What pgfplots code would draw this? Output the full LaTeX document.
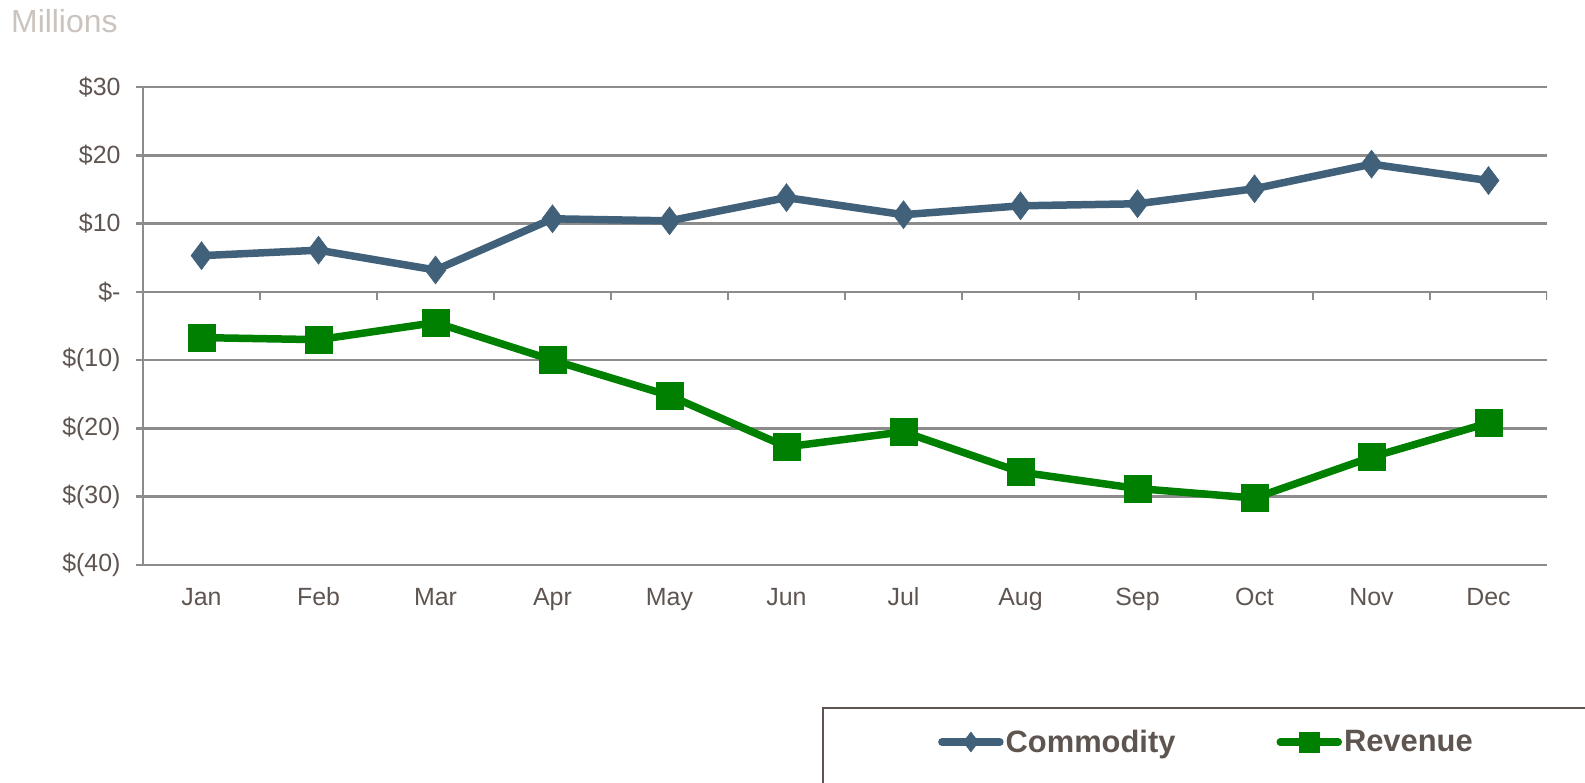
\documentclass[border=0pt]{standalone}
\usepackage{fontspec}
\setmainfont{Liberation Sans}
\usepackage{pgfplots}
\pgfplotsset{compat=1.18}
\definecolor{comm}{HTML}{41607A}
\definecolor{rev}{HTML}{008000}
\definecolor{txt}{HTML}{5F5550}
\definecolor{grd}{HTML}{8C8C8C}
\definecolor{mil}{HTML}{CBC3BD}
\begin{document}
\begin{tikzpicture}[x=1bp,y=1bp]
\node[anchor=west, text=mil, font=\fontsize{32}{34}\selectfont, inner sep=0] at (11,762) {Millions};
\draw[txt, line width=1.5bp] (823,-5) -- (823,75) -- (1595,75);
\begin{axis}[at={(143bp,218bp)}, anchor=south west, scale only axis,
  width=1404bp, height=478bp,
  xmin=-0.5, xmax=11.5, ymin=-40, ymax=30,
  axis y line*=left, axis x line*=bottom,
  axis line style={grd, line width=2.5bp, -},
  xtick={0,...,11},
  xticklabels={Jan,Feb,Mar,Apr,May,Jun,Jul,Aug,Sep,Oct,Nov,Dec},
  major x tick style={draw=none},
  ytick={-40,-30,...,30},
  yticklabels={\$(40),\$(30),\$(20),\$(10),\$-,\$10,\$20,\$30},
  ymajorgrids, grid style={grd, line width=2.5bp},
  tick align=outside, major tick length=7bp,
  y tick style={grd, line width=2.5bp},
  tick label style={text=txt, font=\fontsize{25}{27}\selectfont},
  xticklabel style={anchor=base, yshift=-34bp},
  yticklabel style={xshift=-12bp},
  legend columns=2,
  legend style={at={(0.5662,-0.3703)}, anchor=west, draw=none, fill=none, inner sep=0pt,
    font=\bfseries\fontsize{31}{33}\selectfont, text=txt,
    /tikz/every even column/.append style={column sep=99bp},
    nodes={inner sep=2bp}},
  legend image code/.code={\draw[mark repeat=2,mark phase=2,#1,line cap=round,mark size=10bp] plot coordinates {(0bp,0bp)(29bp,0bp)(58bp,0bp)};},
]
\pgfplotsinvokeforeach{0.5,1.5,...,11.5}{\draw[grd,line width=2.5bp] (axis cs:#1,0) -- ++(0bp,-8bp);}
\addplot[comm, line width=7.5bp, mark=diamond*, mark size=14bp, mark options={solid,line width=0.5bp}]
  coordinates {(0,5.3)(1,6.1)(2,3.2)(3,10.7)(4,10.4)(5,13.8)(6,11.3)(7,12.6)(8,12.9)(9,15.1)(10,18.7)(11,16.3)};
\addlegendentry{Commodity}
\addplot[rev, line width=7.5bp, mark=square*, mark size=13.5bp, mark options={solid,line width=0.5bp}]
  coordinates {(0,-6.7)(1,-7.0)(2,-4.5)(3,-10.0)(4,-15.2)(5,-22.7)(6,-20.5)(7,-26.4)(8,-28.8)(9,-30.2)(10,-24.2)(11,-19.2)};
\addlegendentry{Revenue}
\end{axis}
\pgfresetboundingbox
\useasboundingbox (0,0) rectangle (1585,783);
\end{tikzpicture}
\end{document}
